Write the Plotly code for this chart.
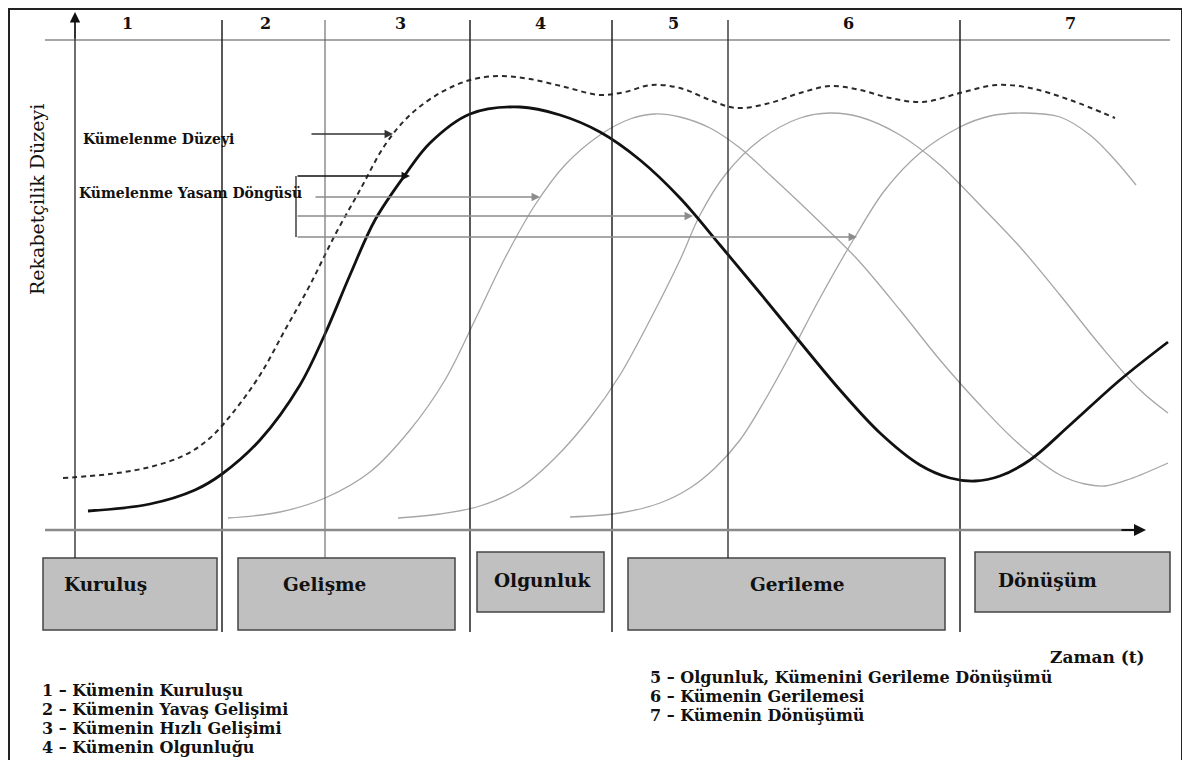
import plotly.graph_objects as go

# Courbes (coordonnées, repère en pixels)
kume_duzeyi_x = [63, 110, 150, 185, 210, 235, 260, 285, 310, 335, 360, 385, 410, 440, 470, 500, 530,
                 565, 600, 625, 651, 680, 710, 736, 770, 800, 831, 860, 890, 923, 960, 996, 1030,
                 1070, 1115]
kume_duzeyi_y = [478, 474, 467, 455, 438, 410, 375, 330, 285, 235, 190, 145, 115, 93, 80, 76, 79,
                 87, 95, 92, 85, 88, 100, 108, 103, 93, 86, 90, 98, 102, 93, 85, 88,
                 100, 118]

yasam_dongusu_x = [88, 150, 195, 222, 260, 300, 325, 350, 375, 405, 430, 470, 520, 560, 600, 640, 680,
                   720, 760, 800, 840, 880, 920, 950, 975, 1000, 1030, 1070, 1120, 1168]
yasam_dongusu_y = [511, 504, 490, 474, 440, 385, 334, 275, 220, 175, 143, 114, 107, 115, 132, 160, 198,
                   245, 293, 342, 390, 433, 465, 478, 481, 476, 460, 425, 380, 342]

gri1_x = [228, 280, 325, 370, 410, 445, 475, 505, 535, 565, 600, 630, 655, 680, 710, 740, 770, 800,
          830, 858, 900, 940, 980, 1020, 1060, 1085, 1105, 1130, 1168]
gri1_y = [518, 512, 498, 472, 430, 380, 320, 258, 205, 165, 135, 119, 114, 117, 128, 148, 175, 203,
          232, 260, 310, 360, 405, 445, 475, 484, 486, 479, 463]

gri2_x = [398, 440, 480, 520, 555, 590, 620, 650, 680, 700, 725, 760, 800, 830, 860, 900, 940, 980,
          1020, 1060, 1100, 1140, 1168]
gri2_y = [518, 514, 506, 488, 458, 418, 375, 320, 260, 215, 175, 140, 118, 113, 117, 135, 165, 205,
          247, 295, 345, 390, 413]

gri3_x = [570, 620, 660, 690, 715, 740, 765, 790, 820, 855, 885, 920, 960, 990, 1025, 1060, 1090,
          1115, 1136]
gri3_y = [517, 513, 503, 488, 468, 440, 400, 355, 298, 237, 190, 153, 127, 116, 113, 117, 135,
          160, 185]

# Étiquettes
evre_no = ["1", "2", "3", "4", "5", "6", "7"]
evre_no_x = [127, 265, 400, 540, 673, 848, 1070]

kutu_etiket = ["Kuruluş", "Gelişme", "Olgunluk", "Gerileme", "Dönüşüm"]

aciklama_sol = ["1 – Kümenin Kuruluşu", "2 – Kümenin Yavaş Gelişimi",
                "3 – Kümenin Hızlı Gelişimi", "4 – Kümenin Olgunluğu"]
aciklama_sag = ["5 – Olgunluk, Kümenini Gerileme Dönüşümü", "6 – Kümenin Gerilemesi",
                "7 – Kümenin Dönüşümü"]

SERIF = "DejaVu Serif"
GRI = "#a6a6a6"
# la page HTML garde la marge de 8 px du <body> : on décale le repère d'autant
DECALAGE = 8


def build_figure() -> go.Figure:
    fig = go.Figure()

    for xs, ys in [(gri1_x, gri1_y), (gri2_x, gri2_y), (gri3_x, gri3_y)]:
        fig.add_trace(go.Scatter(x=xs, y=ys, mode="lines", line_shape="spline",
                                 line=dict(color=GRI, width=1.3), hoverinfo="skip"))
    fig.add_trace(go.Scatter(x=kume_duzeyi_x, y=kume_duzeyi_y, mode="lines", line_shape="spline",
                             line=dict(color="#2a2a2a", width=2, dash="5px,4px"), hoverinfo="skip"))
    fig.add_trace(go.Scatter(x=yasam_dongusu_x, y=yasam_dongusu_y, mode="lines", line_shape="spline",
                             line=dict(color="#111111", width=2.8), hoverinfo="skip"))

    shapes = []
    # cadre
    shapes.append(dict(type="rect", x0=9, y0=9, x1=1182, y1=790,
                       line=dict(color="#222222", width=2)))
    # ligne d'en-tête
    shapes.append(dict(type="line", x0=45, y0=40, x1=1170, y1=40,
                       line=dict(color="#8a8a8a", width=1.5)))
    # lignes verticales des phases
    for x, y1, col, w in [(222, 632, "#222222", 1.5), (325, 558, "#555555", 1),
                          (470, 632, "#222222", 1.5), (612, 632, "#222222", 1.5),
                          (728, 558, "#222222", 1.3), (960, 632, "#222222", 1.5)]:
        shapes.append(dict(type="line", x0=x, y0=20, x1=x, y1=y1, line=dict(color=col, width=w)))
    # axe y
    shapes.append(dict(type="line", x0=75, y0=558, x1=75, y1=18, line=dict(color="#222222", width=1.3)))
    # axe x
    shapes.append(dict(type="line", x0=45, y0=530, x1=1135, y1=530, line=dict(color="#8a8a8a", width=2.5)))
    # crochet "Kümelenme Yaşam Döngüsü"
    shapes.append(dict(type="line", x0=296, y0=176, x1=296, y1=237, line=dict(color="#222222", width=1.3)))
    # boîtes des phases
    for x0, y0, x1, y1 in [(43, 558, 217, 630), (238, 558, 455, 630), (477, 552, 604, 612),
                           (628, 558, 945, 630), (975, 552, 1170, 612)]:
        shapes.append(dict(type="rect", x0=x0, y0=y0, x1=x1, y1=y1, fillcolor="#c0c0c0",
                           line=dict(color="#444444", width=1.5), layer="below"))

    ann = []
    for t, x in zip(evre_no, evre_no_x):
        ann.append(dict(x=x, y=23, text=f"<b>{t}</b>", showarrow=False,
                        font=dict(family=SERIF, size=16, color="#111")))
    for t, x, y, anchor in zip(kutu_etiket, [62, 324, 542, 797, 996], [584, 584, 580, 584, 580],
                               ["left", "center", "center", "center", "left"]):
        ann.append(dict(x=x, y=y, text=f"<b>{t}</b>", showarrow=False, xanchor=anchor,
                        font=dict(family=SERIF, size=18.5, color="#111")))
    for i, t in enumerate(aciklama_sol):
        ann.append(dict(x=40, y=690 + i * 19.3, text=f"<b>{t}</b>", showarrow=False, xanchor="left",
                        font=dict(family=SERIF, size=16, color="#111")))
    for i, t in enumerate(aciklama_sag):
        ann.append(dict(x=648, y=677 + i * 19.3, text=f"<b>{t}</b>", showarrow=False, xanchor="left",
                        font=dict(family=SERIF, size=16, color="#111")))
    ann.append(dict(x=1147, y=657, text="<b>Zaman (t)</b>", showarrow=False, xanchor="right",
                    font=dict(family=SERIF, size=17, color="#111")))
    ann.append(dict(x=37, y=200, text="Rekabetçilik Düzeyi", showarrow=False, textangle=-90,
                    font=dict(family=SERIF, size=19, color="#111")))
    ann.append(dict(x=81, y=139, text="<b>Kümelenme Düzeyi</b>", showarrow=False, xanchor="left",
                    font=dict(family=SERIF, size=14, color="#111")))
    ann.append(dict(x=77, y=193, text="<b>Kümelenme Yasam Döngüsü</b>", showarrow=False, xanchor="left",
                    font=dict(family=SERIF, size=14, color="#111")))

    # flèches
    def fleche(x0, y0, x1, y1, col, w=1.3, head=1.3):
        return dict(x=x1, y=y1, ax=x0, ay=y0, xref="x", yref="y", axref="x", ayref="y",
                    text="", showarrow=True, arrowhead=2, arrowsize=head, arrowwidth=w,
                    arrowcolor=col)

    ann.append(fleche(310, 134, 393, 134, "#333333"))
    ann.append(fleche(296, 176, 410, 176, "#111111"))
    ann.append(fleche(314, 197, 540, 197, "#8c8c8c"))
    ann.append(fleche(296, 216, 693, 216, "#8c8c8c"))
    ann.append(fleche(296, 237, 857, 237, "#8c8c8c"))
    ann.append(fleche(75, 40, 75, 12, "#111111", 1.3, 1.6))
    ann.append(fleche(1120, 530, 1146, 530, "#111111", 2, 1.2))

    fig.update_layout(
        width=1190 - DECALAGE, height=760 - DECALAGE,
        margin=dict(l=0, r=0, t=0, b=0),
        paper_bgcolor="white", plot_bgcolor="white",
        showlegend=False,
        shapes=shapes, annotations=ann,
        xaxis=dict(range=[DECALAGE, 1190], visible=False, fixedrange=True),
        yaxis=dict(range=[760, DECALAGE], visible=False, fixedrange=True),
    )
    return fig


fig = build_figure()
fig.write_html("out.html")
